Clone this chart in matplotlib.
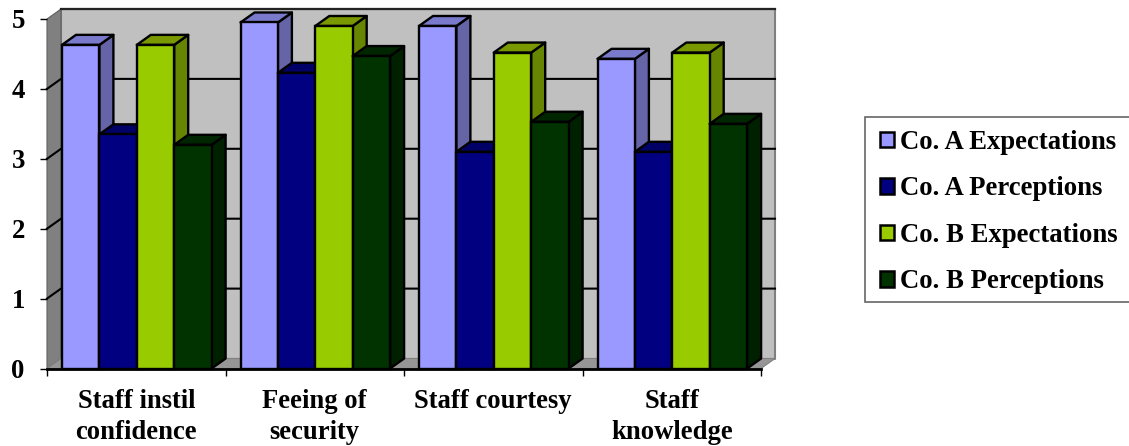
import matplotlib
matplotlib.use("Agg")
import matplotlib.pyplot as plt
from matplotlib.patches import Polygon, Patch, Rectangle

categories = ['Staff instil\nconfidence', 'Feeing of\nsecurity', 'Staff courtesy', 'Staff\nknowledge']
series = ['Co. A Expectations', 'Co. A Perceptions', 'Co. B Expectations', 'Co. B Perceptions']
a_exp = [4.63, 4.95, 4.9, 4.43]
a_per = [3.35, 4.23, 3.1, 3.1]
b_exp = [4.63, 4.9, 4.52, 4.52]
b_per = [3.2, 4.47, 3.53, 3.5]
yticks = [0, 1, 2, 3, 4, 5]

front = ['#9999FF', '#000080', '#99CC00', '#003300']
top = ['#7A7ACC', '#000066', '#7A9900', '#002600']
side = ['#6464A6', '#000053', '#668500', '#002100']

W, H = 1129, 446
plt.rcParams['font.family'] = ['Liberation Serif', 'DejaVu Serif']
plt.rcParams['font.weight'] = 'bold'

fig = plt.figure(figsize=(W / 100, H / 100), dpi=100)
ax = fig.add_axes([47 / W, 1 - 368.5 / H, 714 / W, 349.5 / H])
ax.set_xlim(0, 4)
ax.set_ylim(0, 5)

# depth of the 3d box and of the bars, in data units
dx = 14 / 178.5
dy = 10 / 69.9
bw = 37.4 / 178.5
start = 15 / 178.5


def poly(pts, color, edge='none', lw=0, z=1):
    ax.add_patch(Polygon(pts, closed=True, facecolor=color, edgecolor=edge, linewidth=lw,
                         clip_on=False, zorder=z, joinstyle='round'))


# walls and floor
poly([(dx, dy), (4 + dx, dy), (4 + dx, 5 + dy), (dx, 5 + dy)], '#C0C0C0', '#808080', 1.5, 1)
poly([(0, 0), (dx, dy), (dx, 5 + dy), (0, 5)], '#808080', '#606060', 0.8, 1.1)
poly([(0, 0), (4, 0), (4 + dx, dy), (dx, dy)], '#969696', '#808080', 0.8, 1.1)
ax.plot([dx, 4 + dx], [5 + dy, 5 + dy], color='#222222', lw=1.6, clip_on=False, zorder=1.2)

for v in yticks[1:5]:
    ax.plot([0, dx, 4 + dx], [v, v + dy, v + dy], color='black', lw=1.5, clip_on=False, zorder=1.2)

# bars, left to right so each one covers the side of the previous
z = 2
for g in range(len(categories)):
    for s, vals in enumerate([a_exp, a_per, b_exp, b_per]):
        x0 = g + start + s * bw
        x1 = x0 + bw
        v = vals[g]
        poly([(x1, 0), (x1 + dx, dy), (x1 + dx, v + dy), (x1, v)], side[s], 'black', 1.7, z)
        poly([(x0, v), (x1, v), (x1 + dx, v + dy), (x0 + dx, v + dy)], top[s], 'black', 1.7, z)
        ax.bar(x0, v, width=bw, align='edge', color=front[s], edgecolor='black', linewidth=1.7,
               zorder=z + 0.1, clip_on=False)
        z += 1

for name in ['top', 'right', 'left']:
    ax.spines[name].set_visible(False)
ax.spines['bottom'].set_linewidth(2)
ax.spines['bottom'].set_zorder(100)

ax.set_yticks(yticks)
ax.set_yticklabels(yticks, fontsize=19.3, fontweight='bold')
ax.tick_params(axis='y', length=5, width=1, pad=11)
ax.set_xticks(range(5))
ax.set_xticklabels([])
ax.tick_params(axis='x', which='major', length=5, width=1)
ax.set_xticks([0.5, 1.5, 2.5, 3.5], minor=True)
ax.set_xticklabels(categories, minor=True, fontsize=19.2, fontweight='bold', linespacing=1.31)
ax.tick_params(axis='x', which='minor', length=0, pad=15)

# legend box runs off the right edge of the figure
fig.add_artist(Rectangle((865 / W, 1 - 302 / H), 280 / W, 185 / H, transform=fig.transFigure,
                         facecolor='white', edgecolor='#666666', linewidth=1.2, zorder=1))
handles = [Patch(facecolor=c, edgecolor='black', linewidth=1.8) for c in front]
leg = fig.legend(handles, series, loc='upper left', bbox_to_anchor=(865 / W, 1 - 115 / H),
                 bbox_transform=fig.transFigure, borderaxespad=0, handlelength=0.52,
                 handleheight=0.52, handletextpad=0.22, labelspacing=0.8, borderpad=0.56,
                 frameon=False,
                 prop={'family': 'Liberation Serif', 'weight': 'bold', 'size': 19.3})

fig.savefig('out.png', dpi=100)
